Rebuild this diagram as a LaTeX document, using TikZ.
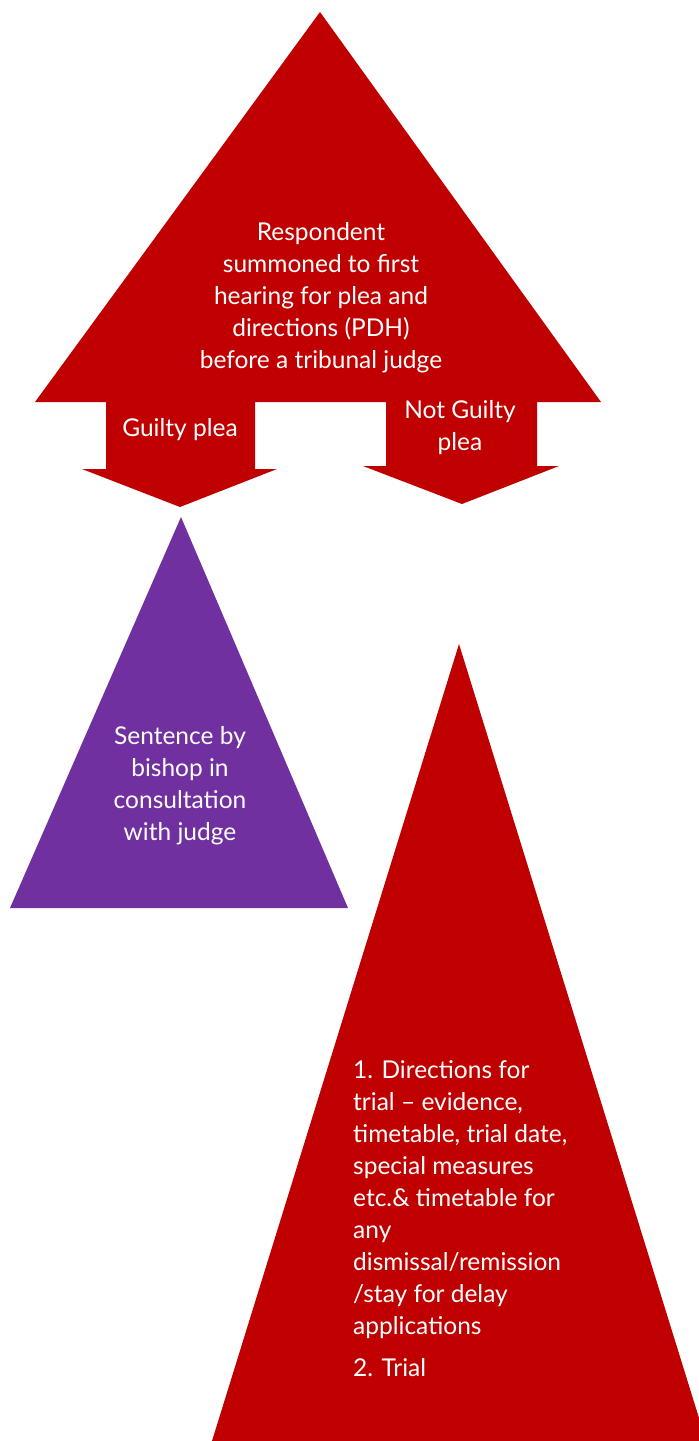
\documentclass[tikz,border=0pt]{standalone}
\usepackage{fontspec}
\setmainfont{Lato}
\definecolor{tribred}{HTML}{C00000}
\definecolor{tribpurple}{HTML}{7030A0}
\begin{document}
\begin{tikzpicture}[x=1pt,y=-1pt,
  shapefill/.style={fill=#1,draw=none},
  lbl/.style={text=white,font=\fontsize{24.5}{32}\selectfont,inner sep=0pt,align=center}]
\useasboundingbox (0,0) rectangle (699,1441);
% top shape: triangle with two down arrows
\coordinate (apex) at (320,12);
\coordinate (gtip) at (180,507);
\coordinate (ngtip) at (462,504);
\path[shapefill=tribred] (apex) -- (601,402) -- (537,402) -- (537,466) -- (559,466)
  -- (ngtip) -- (363,466) -- (386,466) -- (386,402) -- (255,402) -- (255,469)
  -- (277,469) -- (gtip) -- (82,469) -- (106,469) -- (106,402) -- (35,402) -- cycle;
% purple triangle
\coordinate (papex) at (181,517);
\path[shapefill=tribpurple] (papex) -- (348,908) -- (10,908) -- cycle;
% bottom red triangle
\coordinate (rapex) at (459,644);
\path[shapefill=tribred] (rapex) -- (699,1418) -- (699,1441) -- (212,1441) -- cycle;
% texts
\node[lbl] (resp) at (321,298) {Respondent\\summoned to first\\hearing for plea and\\directions (PDH)\\before a tribunal judge};
\node[lbl] (guilty) at (180,430) {Guilty plea};
\node[lbl] (notguilty) at (460,428) {Not Guilty\\plea};
\node[lbl] (sentence) at (180,786) {Sentence by\\bishop in\\consultation\\with judge};
\node[lbl,align=left,anchor=west] (trial) at (353,1219) {1. Directions for\\trial -- evidence,\\timetable, trial date,\\special measures\\etc.\& timetable for\\any\\dismissal/remission\\/stay for delay\\applications\\[10pt]2. Trial};
\end{tikzpicture}
\end{document}
